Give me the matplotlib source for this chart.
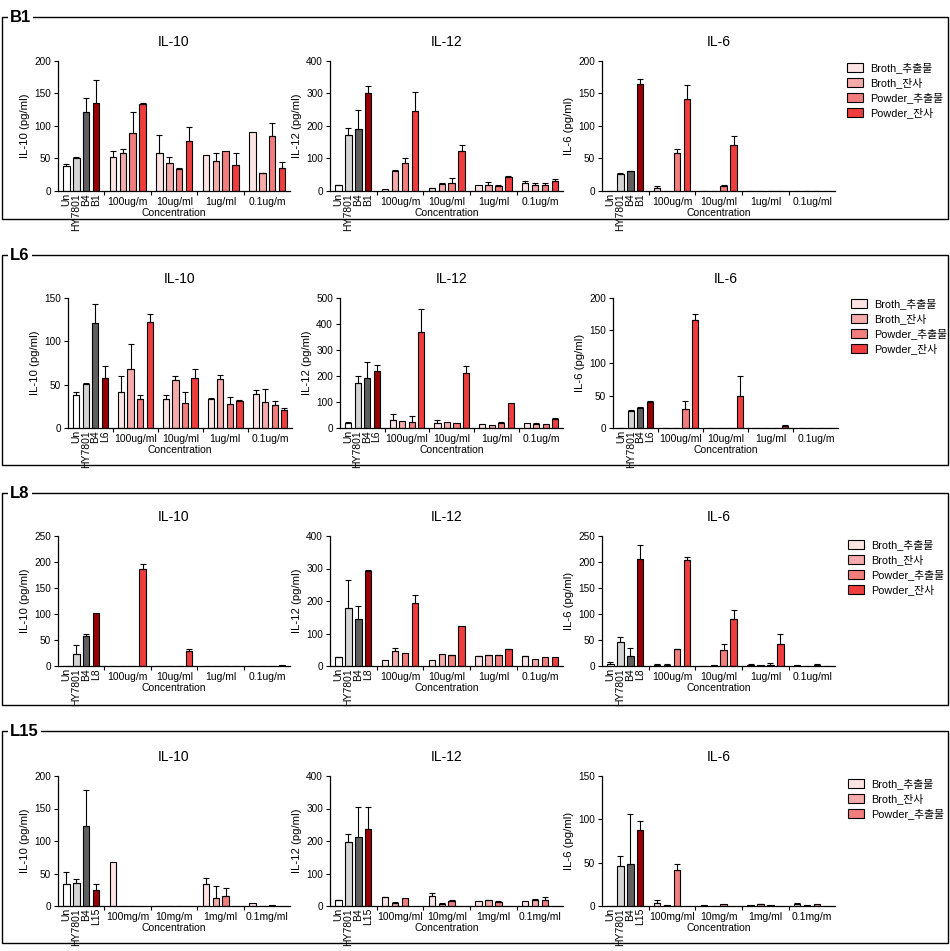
import matplotlib
matplotlib.use('Agg')
import matplotlib.pyplot as plt
from matplotlib.patches import Rectangle, Patch

plt.rcParams['font.family'] = ['Liberation Sans', 'Noto Sans CJK KR', 'DejaVu Sans']

# ---------------- data ----------------
series_names = ['Broth_추출물', 'Broth_잔사', 'Powder_추출물', 'Powder_잔사']
cytokines = ['IL-10', 'IL-12', 'IL-6']
row_names = ['B1', 'L6', 'L8', 'L15']

ctrl_names_B1 = ['Un', 'HY7801', 'B4', 'B1']
ctrl_names_L6 = ['Un', 'HY7801', 'B4', 'L6']
ctrl_names_L8 = ['Un', 'HY7801', 'B4', 'L8']
ctrl_names_L15 = ['Un', 'HY7801', 'B4', 'L15']

groups_B1_IL10 = ['100ug/m', '10ug/ml', '1ug/ml', '0.1ug/m']
groups_B1_IL12 = ['100ug/m', '10ug/ml', '1ug/ml', '0.1ug/m']
groups_B1_IL6 = ['100ug/m', '10ug/ml', '1ug/ml', '0.1ug/ml']
groups_L6_IL10 = ['100ug/ml', '10ug/ml', '1ug/ml', '0.1ug/m']
groups_L6_IL12 = ['100ug/ml', '10ug/ml', '1ug/ml', '0.1ug/m']
groups_L6_IL6 = ['100ug/ml', '10ug/ml', '1ug/ml', '0.1ug/m']
groups_L8_IL10 = ['100ug/m', '10ug/ml', '1ug/ml', '0.1ug/m']
groups_L8_IL12 = ['100ug/m', '10ug/ml', '1ug/ml', '0.1ug/m']
groups_L8_IL6 = ['100ug/m', '10ug/ml', '1ug/ml', '0.1ug/ml']
groups_L15_IL10 = ['100mg/m', '10mg/m', '1mg/ml', '0.1mg/ml']
groups_L15_IL12 = ['100mg/ml', '10mg/ml', '1mg/ml', '0.1mg/ml']
groups_L15_IL6 = ['100mg/ml', '10mg/m', '1mg/ml', '0.1mg/m']

# controls: value, error (upper)
B1_IL10_ctrl = [38, 51, 121, 136]
B1_IL10_ctrl_err = [3, 1, 22, 35]
B1_IL10_vals = [[52, 58, 89, 134], [58, 43, 34, 77], [55, 46, 61, 40], [91, 27, 84, 35]]
B1_IL10_errs = [[10, 7, 33, 1], [28, 9, 1, 21], [0, 12, 0, 18], [0, 1, 21, 9]]

B1_IL12_ctrl = [18, 171, 190, 300]
B1_IL12_ctrl_err = [2, 24, 60, 24]
B1_IL12_vals = [[7, 60, 85, 245], [8, 23, 26, 122], [19, 20, 16, 42], [26, 20, 19, 31]]
B1_IL12_errs = [[0, 6, 18, 61], [2, 2, 13, 21], [0, 9, 2, 5], [6, 5, 6, 7]]

B1_IL6_ctrl = [0, 26, 30, 164]
B1_IL6_ctrl_err = [0, 1, 1, 9]
B1_IL6_vals = [[5, 0, 58, 142], [0, 0, 7, 70], [0, 0, 0, 0], [0, 0, 0, 0]]
B1_IL6_errs = [[3, 0, 6, 21], [0, 0, 3, 14], [0, 0, 0, 0], [0, 0, 0, 0]]

L6_IL10_ctrl = [38, 51, 121, 58]
L6_IL10_ctrl_err = [4, 1, 22, 14]
L6_IL10_vals = [[42, 68, 33, 122], [34, 55, 29, 58], [34, 56, 28, 31], [39, 30, 26, 21]]
L6_IL10_errs = [[18, 29, 5, 10], [4, 5, 12, 10], [1, 5, 8, 1], [5, 15, 5, 2]]

L6_IL12_ctrl = [18, 173, 192, 220]
L6_IL12_ctrl_err = [4, 27, 60, 23]
L6_IL12_vals = [[30, 26, 25, 369], [18, 22, 18, 211], [17, 13, 21, 95], [21, 15, 17, 35]]
L6_IL12_errs = [[22, 0, 20, 89], [11, 0, 0, 29], [0, 0, 2, 0], [0, 3, 0, 3]]

L6_IL6_ctrl = [0, 26, 31, 40]
L6_IL6_ctrl_err = [0, 1, 1, 1]
L6_IL6_vals = [[0, 0, 29, 166], [0, 0, 0, 49], [0, 0, 0, 3], [0, 0, 0, 0]]
L6_IL6_errs = [[0, 0, 12, 9], [0, 0, 0, 31], [0, 0, 0, 1], [0, 0, 0, 0]]

L8_IL10_ctrl = [0, 23, 57, 101]
L8_IL10_ctrl_err = [0, 17, 4, 0]
L8_IL10_vals = [[0, 0, 0, 186], [0, 0, 0, 28], [0, 0, 0, 0], [0, 0, 0, 2]]
L8_IL10_errs = [[0, 0, 0, 11], [0, 0, 0, 5], [0, 0, 0, 0], [0, 0, 0, 0]]

L8_IL12_ctrl = [27, 177, 146, 292]
L8_IL12_ctrl_err = [1, 89, 38, 2]
L8_IL12_vals = [[20, 46, 39, 195], [20, 36, 34, 122], [31, 34, 34, 52], [30, 21, 27, 27]]
L8_IL12_errs = [[0, 8, 0, 23], [0, 0, 1, 0], [1, 1, 1, 1], [1, 0, 0, 0]]

L8_IL6_ctrl = [3, 47, 20, 205]
L8_IL6_ctrl_err = [4, 8, 14, 28]
L8_IL6_vals = [[2, 2, 32, 203], [0, 1, 30, 90], [2, 1, 2, 43], [1, 0, 2, 0]]
L8_IL6_errs = [[1, 1, 1, 7], [0, 0, 12, 17], [1, 0, 4, 18], [0, 0, 1, 0]]

L15_IL10_ctrl = [34, 36, 123, 24]
L15_IL10_ctrl_err = [18, 6, 56, 10]
L15_IL10_vals = [[67, 0, 0], [0, 0, 0], [34, 13, 16], [5, 0, 1.5]]
L15_IL10_errs = [[0, 0, 0], [0, 0, 0], [9, 18, 12], [0, 0, 0]]

L15_IL12_ctrl = [18, 198, 213, 236]
L15_IL12_ctrl_err = [2, 25, 93, 70]
L15_IL12_vals = [[27, 10, 25], [32, 7, 16], [16, 18, 13], [16, 20, 20]]
L15_IL12_errs = [[2, 2, 0], [7, 2, 1], [0, 2, 2], [0, 2, 7]]

L15_IL6_ctrl = [0, 46, 49, 88]
L15_IL6_ctrl_err = [0, 12, 57, 10]
L15_IL6_vals = [[4, 1, 41], [1.5, 0, 2], [1, 2, 1], [2, 1, 2]]
L15_IL6_errs = [[3, 0, 7], [0, 0, 0], [0, 0.5, 0], [2, 0, 0]]

# y axis maxima / steps per panel
ymax_rows = [[200, 400, 200], [150, 500, 200], [250, 400, 250], [200, 400, 150]]
ystep_rows = [[50, 100, 50], [50, 100, 50], [50, 100, 50], [50, 100, 50]]

# ---------------- style ----------------
CTRL_COLORS = ['#ffffff', '#d4d4d4', '#5f5f5f', '#990000']
SERIES_COLORS = ['#fde4e4', '#f6abab', '#f27d7d', '#ef3c3c']
BAR_W = 0.65
CTRL_POS = [0, 1, 2, 3]
GROUP_START = [4.7, 9.4, 14.1, 18.8]
SEP_POS = [3.85, 8.55, 13.25, 17.95]

W, H = 950, 951
fig = plt.figure(figsize=(W / 100, H / 100), dpi=100)


def add_ax(x0, x1, ytop, ybot):
    return fig.add_axes([x0 / W, 1 - ybot / H, (x1 - x0) / W, (ybot - ytop) / H])


def draw_panel(ax, ctrl_names, ctrl, ctrl_err, group_names, vals, errs, ymax, ystep, title):
    ax.bar(CTRL_POS, ctrl, width=BAR_W, color=CTRL_COLORS, edgecolor='black', linewidth=0.8, zorder=2)
    for x, v, e in zip(CTRL_POS, ctrl, ctrl_err):
        if e > 0:
            ax.errorbar([x], [v], yerr=[[0], [e]], fmt='none', ecolor='black',
                        elinewidth=0.8, capsize=2.3, capthick=0.8, zorder=3)
    for g, (gv, ge) in enumerate(zip(vals, errs)):
        xs = [GROUP_START[g] + j for j in range(len(gv))]
        ax.bar(xs, gv, width=BAR_W, color=SERIES_COLORS[:len(gv)], edgecolor='black',
               linewidth=0.8, zorder=2)
        for x, v, e in zip(xs, gv, ge):
            if e > 0:
                ax.errorbar([x], [v], yerr=[[0], [e]], fmt='none', ecolor='black',
                            elinewidth=0.8, capsize=2.3, capthick=0.8, zorder=3)
    ax.set_xlim(-0.85, 22.6)
    ax.set_ylim(0, ymax)
    ax.set_yticks(list(range(0, ymax + 1, ystep)))
    ax.set_xticks(SEP_POS)
    ax.set_xticklabels([])
    for s in ['top', 'right']:
        ax.spines[s].set_visible(False)
    for s in ['left', 'bottom']:
        ax.spines[s].set_linewidth(0.9)
    ax.tick_params(axis='both', labelsize=7.2, length=3, width=0.8, pad=2)
    ax.set_ylabel(title + ' (pg/ml)', fontsize=8.2, labelpad=3)
    ax.set_title(title, fontsize=10, pad=11)
    for x, name in zip(CTRL_POS, ctrl_names):
        ax.annotate(name, xy=(x, 0), xycoords=('data', 'axes fraction'),
                    xytext=(0, -2), textcoords='offset pixels', rotation=90,
                    ha='center', va='top', fontsize=7.5)
    for g, name in enumerate(group_names):
        ax.annotate(name, xy=(GROUP_START[g] + 1.5, 0), xycoords=('data', 'axes fraction'),
                    xytext=(0, -11), textcoords='offset pixels',
                    ha='center', va='center', fontsize=7.5)
    ax.annotate('Concentration', xy=(0.5, 0), xycoords='axes fraction',
                xytext=(0, -22), textcoords='offset pixels',
                ha='center', va='center', fontsize=7.5)


panels = [
    [(ctrl_names_B1, B1_IL10_ctrl, B1_IL10_ctrl_err, groups_B1_IL10, B1_IL10_vals, B1_IL10_errs),
     (ctrl_names_B1, B1_IL12_ctrl, B1_IL12_ctrl_err, groups_B1_IL12, B1_IL12_vals, B1_IL12_errs),
     (ctrl_names_B1, B1_IL6_ctrl, B1_IL6_ctrl_err, groups_B1_IL6, B1_IL6_vals, B1_IL6_errs)],
    [(ctrl_names_L6, L6_IL10_ctrl, L6_IL10_ctrl_err, groups_L6_IL10, L6_IL10_vals, L6_IL10_errs),
     (ctrl_names_L6, L6_IL12_ctrl, L6_IL12_ctrl_err, groups_L6_IL12, L6_IL12_vals, L6_IL12_errs),
     (ctrl_names_L6, L6_IL6_ctrl, L6_IL6_ctrl_err, groups_L6_IL6, L6_IL6_vals, L6_IL6_errs)],
    [(ctrl_names_L8, L8_IL10_ctrl, L8_IL10_ctrl_err, groups_L8_IL10, L8_IL10_vals, L8_IL10_errs),
     (ctrl_names_L8, L8_IL12_ctrl, L8_IL12_ctrl_err, groups_L8_IL12, L8_IL12_vals, L8_IL12_errs),
     (ctrl_names_L8, L8_IL6_ctrl, L8_IL6_ctrl_err, groups_L8_IL6, L8_IL6_vals, L8_IL6_errs)],
    [(ctrl_names_L15, L15_IL10_ctrl, L15_IL10_ctrl_err, groups_L15_IL10, L15_IL10_vals, L15_IL10_errs),
     (ctrl_names_L15, L15_IL12_ctrl, L15_IL12_ctrl_err, groups_L15_IL12, L15_IL12_vals, L15_IL12_errs),
     (ctrl_names_L15, L15_IL6_ctrl, L15_IL6_ctrl_err, groups_L15_IL6, L15_IL6_vals, L15_IL6_errs)],
]

# layout in pixels
row_axis_y = [(61, 191), (298, 428), (536, 666), (776, 906)]
row_axis_x = [
    [(58, 290), (330, 563), (602, 835)],
    [(68, 292), (340, 563), (613, 838)],
    [(58, 290), (330, 563), (602, 835)],
    [(58, 290), (330, 563), (602, 835)],
]
box_y = [(17, 219), (255, 465), (493, 705), (731, 943)]
legend_pos = [(847, 62), (851, 298), (848, 539), (848, 778)]

for r in range(4):
    # frame box
    y0, y1 = box_y[r]
    fig.patches.append(Rectangle((2 / W, 1 - y1 / H), (946 / W), (y1 - y0) / H, fill=False,
                                 edgecolor='black', linewidth=1.0, transform=fig.transFigure))
    fig.text(10 / W, 1 - y0 / H, row_names[r], fontsize=12, fontweight='bold', ha='left', va='center',
             bbox=dict(facecolor='white', edgecolor='none', pad=1.5))
    for c in range(3):
        xa, xb = row_axis_x[r][c]
        ya, yb = row_axis_y[r]
        ax = add_ax(xa, xb, ya, yb)
        draw_panel(ax, *panels[r][c], ymax_rows[r][c], ystep_rows[r][c], cytokines[c])
    nser = len(panels[r][2][4][0])
    handles = [Patch(facecolor=SERIES_COLORS[i], edgecolor='black', linewidth=0.8) for i in range(nser)]
    lx, ly = legend_pos[r]
    fig.legend(handles, series_names[:nser], loc='upper left', bbox_to_anchor=(lx / W, 1 - ly / H),
               frameon=False, fontsize=7.8, handlelength=1.5, handleheight=0.9, labelspacing=0.4,
               handletextpad=0.6, borderaxespad=0, borderpad=0)

fig.savefig('out.png', dpi=100)
